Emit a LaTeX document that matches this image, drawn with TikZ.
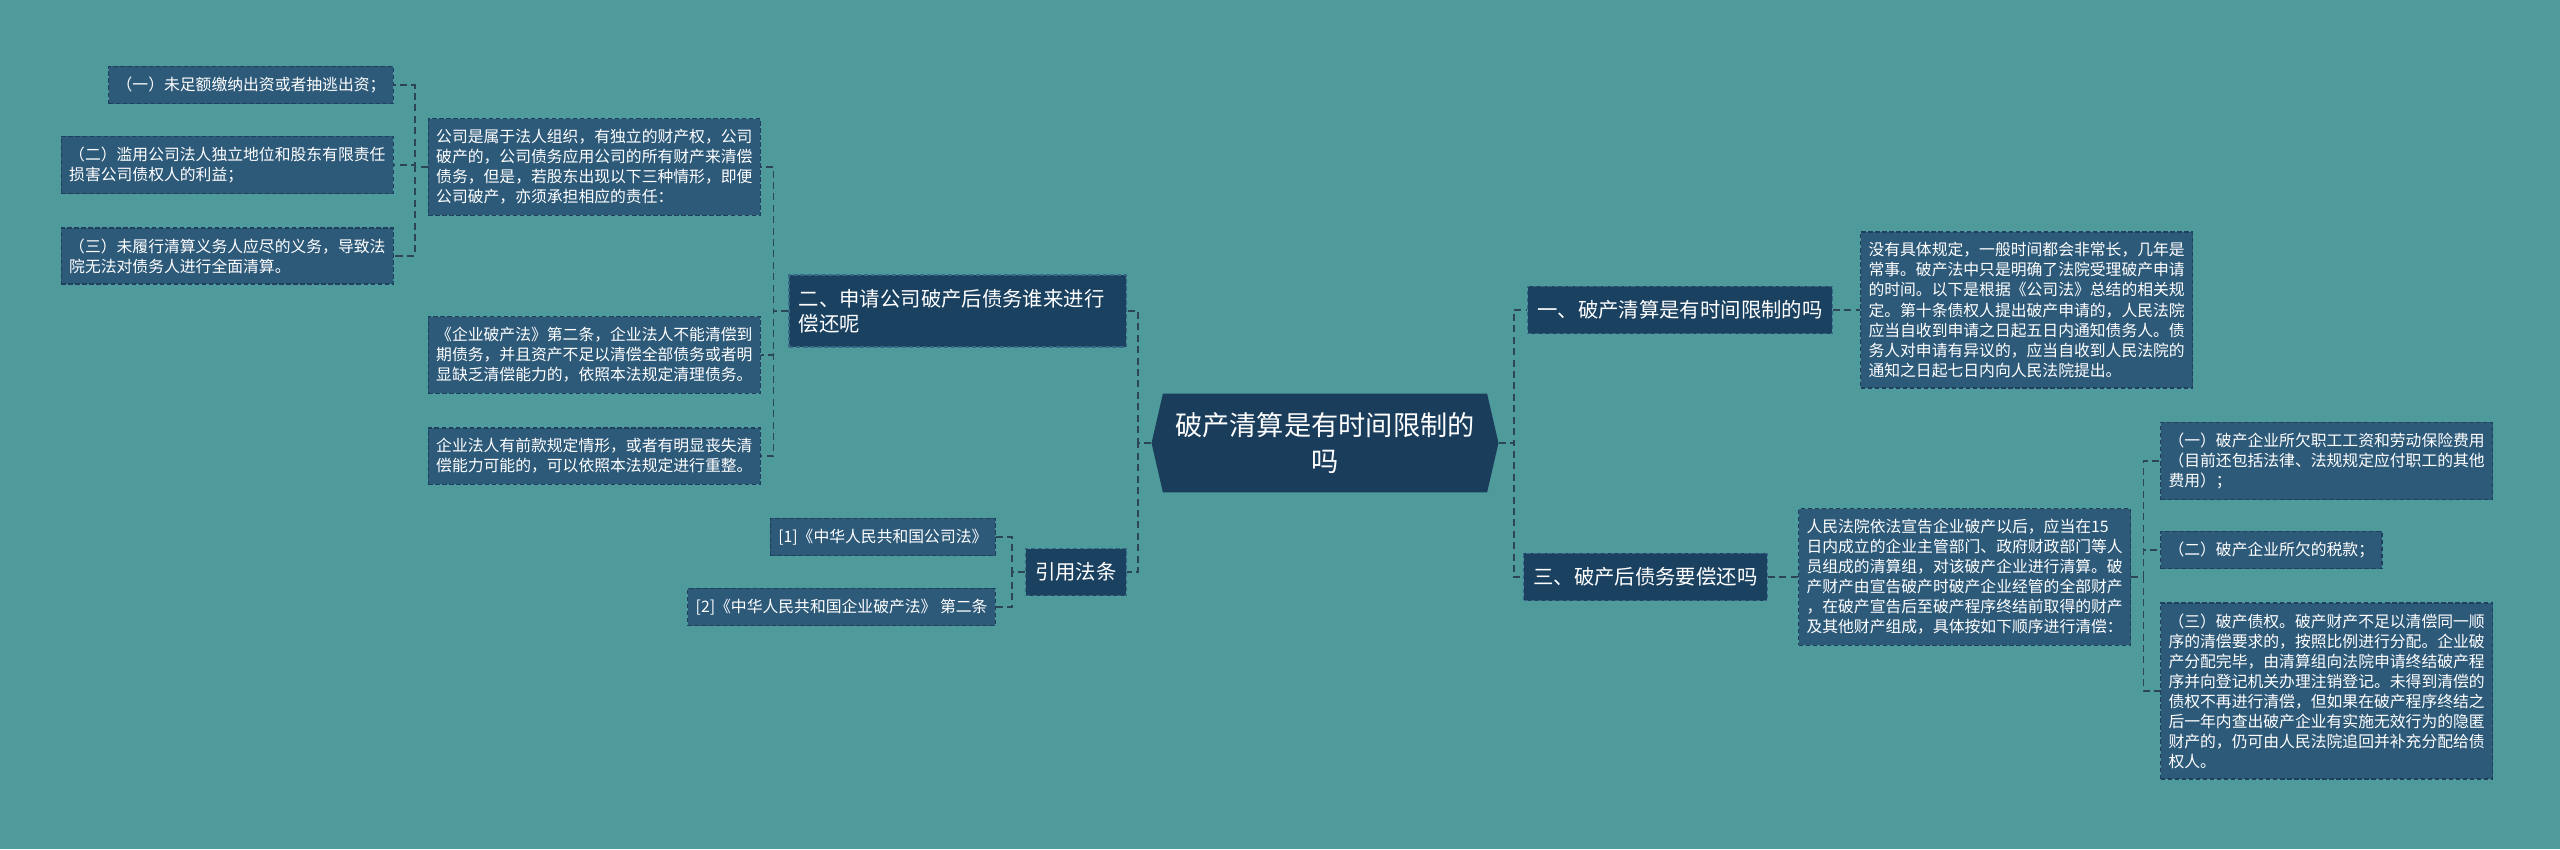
\documentclass[tikz,border=0pt]{standalone}
\usepackage{fontspec}
\newfontfamily\cjk{Noto Sans CJK SC}
\usepackage{xcolor}
\usetikzlibrary{positioning,
	shapes.symbols}
\definecolor{bgteal}{HTML}{4F9B9B}
\definecolor{rootblue}{HTML}{1A3D5C}
\definecolor{branchblue}{HTML}{1B4161}
\definecolor{branchedge}{HTML}{3A6787}
\definecolor{leafblue}{HTML}{2E5A7A}
\definecolor{leafedge}{HTML}{1E405E}
\definecolor{linkgray}{HTML}{2C4656}

\begin{document}
\begin{tikzpicture}[x=0.02cm, y=-0.02cm,
	root/.style={shape=signal, signal to=east and west, signal pointer angle=154,
		fill=rootblue, text=white, align=center, inner xsep=7pt, inner ysep=11pt,
		font=\cjk\fontsize{15.5}{20}\selectfont},
	branch/.style={draw=branchedge, dash pattern=on 2.5pt off 1.5pt, line width=0.7pt,
		fill=branchblue, text=white, align=left, inner xsep=5.5pt, inner ysep=8pt,
		font=\cjk\fontsize{11.6}{14.2}\selectfont},
	leaf/.style={draw=leafedge, dash pattern=on 2.5pt off 1.5pt, line width=0.7pt,
		fill=leafblue, text=white, align=left, inner xsep=4.5pt, inner ysep=6pt,
		font=\cjk\fontsize{9}{11.4}\selectfont},
	link/.style={draw=linkgray, line width=0.9pt, dash pattern=on 4pt off 2.5pt}]
	\fill[bgteal] (0,0) rectangle (2560,849);
	\useasboundingbox (0,0) rectangle (2560,849);

	\node[root] (core) at (1325,443) {破产清算是有时间限制的\\吗};

	\node[branch, anchor=west] (limit) at (1527,310) {一、破产清算是有时间限制的吗};
	\node[leaf, anchor=west] (limitinfo) at (1860,310) {没有具体规定，一般时间都会非常长，几年是\\常事。破产法中只是明确了法院受理破产申请\\的时间。以下是根据《公司法》总结的相关规\\定。第十条债权人提出破产申请的，人民法院\\应当自收到申请之日起五日内通知债务人。债\\务人对申请有异议的，应当自收到人民法院的\\通知之日起七日内向人民法院提出。};
	\node[branch, anchor=west] (repay) at (1523,577) {三、破产后债务要偿还吗};
	\node[leaf, anchor=west] (repayinfo) at (1798,577) {人民法院依法宣告企业破产以后，应当在15\\日内成立的企业主管部门、政府财政部门等人\\员组成的清算组，对该破产企业进行清算。破\\产财产由宣告破产时破产企业经管的全部财产\\，在破产宣告后至破产程序终结前取得的财产\\及其他财产组成，具体按如下顺序进行清偿：};
	\node[leaf, anchor=west] (orderA) at (2160,461) {（一）破产企业所欠职工工资和劳动保险费用\\（目前还包括法律、法规规定应付职工的其他\\费用）；};
	\node[leaf, anchor=west] (orderB) at (2160,550) {（二）破产企业所欠的税款；};
	\node[leaf, anchor=west] (orderC) at (2160,691) {（三）破产债权。破产财产不足以清偿同一顺\\序的清偿要求的，按照比例进行分配。企业破\\产分配完毕，由清算组向法院申请终结破产程\\序并向登记机关办理注销登记。未得到清偿的\\债权不再进行清偿，但如果在破产程序终结之\\后一年内查出破产企业有实施无效行为的隐匿\\财产的，仍可由人民法院追回并补充分配给债\\权人。};

	\node[branch, anchor=east, text width=181pt] (who) at (1127,311) {二、申请公司破产后债务谁来进行\\偿还呢};
	\node[branch, anchor=east] (cite) at (1127,572) {引用法条};
	\node[leaf, anchor=east] (corp) at (761,167) {公司是属于法人组织，有独立的财产权，公司\\破产的，公司债务应用公司的所有财产来清偿\\债务，但是，若股东出现以下三种情形，即便\\公司破产，亦须承担相应的责任：};
	\node[leaf, anchor=east] (lawA) at (761,355) {《企业破产法》第二条，企业法人不能清偿到\\期债务，并且资产不足以清偿全部债务或者明\\显缺乏清偿能力的，依照本法规定清理债务。};
	\node[leaf, anchor=east] (lawB) at (761,456) {企业法人有前款规定情形，或者有明显丧失清\\偿能力可能的，可以依照本法规定进行重整。};
	\node[leaf, anchor=east] (dutyA) at (394,85) {（一）未足额缴纳出资或者抽逃出资；};
	\node[leaf, anchor=east] (dutyB) at (394,165) {（二）滥用公司法人独立地位和股东有限责任\\损害公司债权人的利益；};
	\node[leaf, anchor=east] (dutyC) at (394,256) {（三）未履行清算义务人应尽的义务，导致法\\院无法对债务人进行全面清算。};
	\node[leaf, anchor=east] (refA) at (996,537) {[1]《中华人民共和国公司法》};
	\node[leaf, anchor=east] (refB) at (996,607) {[2]《中华人民共和国企业破产法》 第二条};

	\foreach \kid in {limit,repay} {
		\draw[link] (core.east) -- ++(15,0) |- (\kid.west);
	}
	\foreach \kid in {who,cite} {
		\draw[link] (core.west) -- ++(-13,0) |- (\kid.east);
	}
	\foreach \kid in {corp,lawA,lawB} {
		\draw[link] (who.west) -- ++(-15,0) |- (\kid.east);
	}
	\foreach \kid in {dutyA,dutyB,dutyC} {
		\draw[link] (corp.west) -- ++(-13,0) |- (\kid.east);
	}
	\foreach \kid in {refA,refB} {
		\draw[link] (cite.west) -- ++(-13,0) |- (\kid.east);
	}
	\foreach \kid in {orderA,orderB,orderC} {
		\draw[link] (repayinfo.east) -- ++(12,0) |- (\kid.west);
	}
	\draw[link] (limit) -- (limitinfo);
	\draw[link] (repay) -- (repayinfo);
\end{tikzpicture}
\end{document}
